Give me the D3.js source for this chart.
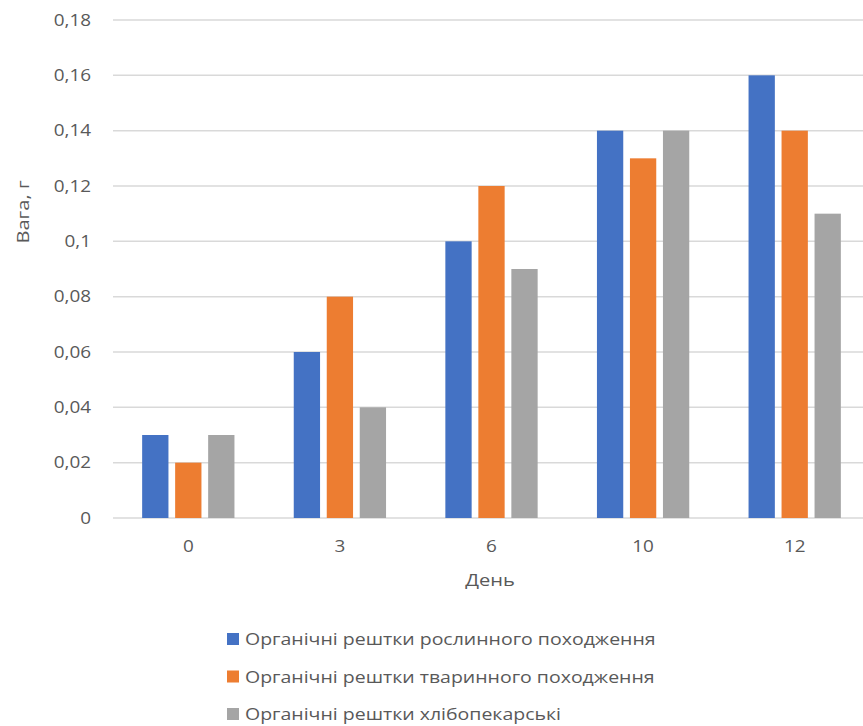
<!DOCTYPE html>
<html><head><meta charset="utf-8">
<script src="https://cdn.jsdelivr.net/npm/d3@7"></script>
<style>body{margin:0;background:#fff;} svg{display:block;}</style>
</head><body>
<svg id="chart" width="863" height="726"></svg>
<script>
const days = ["0", "3", "6", "10", "12"];
const seriesNames = [
  "Органічні рештки рослинного походження",
  "Органічні рештки тваринного походження",
  "Органічні рештки хлібопекарські"
];
const plantValues = [0.03, 0.06, 0.10, 0.14, 0.16];
const animalValues = [0.02, 0.08, 0.12, 0.13, 0.14];
const bakeryValues = [0.03, 0.04, 0.09, 0.14, 0.11];
const yTicks = [0, 0.02, 0.04, 0.06, 0.08, 0.1, 0.12, 0.14, 0.16, 0.18];
const colors = ["#4472C4", "#ED7D31", "#A5A5A5"];

const series = [plantValues, animalValues, bakeryValues];
const svg = d3.select("#chart");
const FONT = "'Open Sans', 'DejaVu Sans', sans-serif";
const SX = 1.22;
const textCol = "#595959";

const x = d3.scaleBand().domain(days).range([112.5, 870.5]).paddingInner(0).paddingOuter(0);
const y = d3.scaleLinear().domain([0, 0.18]).range([518, 20]);

function stext(g, tx, ty, str, size, anchor, rot) {
  const gg = g.append("g").attr("transform", `translate(${tx},${ty})` + (rot ? ` rotate(${rot})` : "") + ` scale(${SX},1)`);
  gg.append("text").attr("x", 0).attr("y", 0)
    .attr("text-anchor", anchor).attr("dominant-baseline", "central")
    .attr("font-family", FONT).attr("font-size", size).attr("fill", textCol).text(str);
}

// gridlines
const fmt = v => v === 0 ? "0" : String(+v.toFixed(2)).replace(".", ",");
svg.append("g").selectAll("line").data(yTicks).join("line")
  .attr("x1", 113).attr("x2", 863)
  .attr("y1", d => y(d)).attr("y2", d => y(d))
  .attr("stroke", "#d9d9d9").attr("stroke-width", 1.5);

// y tick labels
const yl = svg.append("g");
yTicks.forEach(t => stext(yl, 91, y(t), fmt(t), 15.5, "end"));

// bars
const barW = 26.3, gap = 6.7;
const groupW = 3 * barW + 2 * gap;
const bars = svg.append("g");
series.forEach((vals, si) => {
  bars.selectAll(null).data(vals.map((v, i) => ({v, d: days[i]}))).join("rect")
    .attr("x", d => x(d.d) + x.bandwidth() / 2 - groupW / 2 + si * (barW + gap))
    .attr("width", barW)
    .attr("y", d => y(d.v))
    .attr("height", d => y(0) - y(d.v))
    .attr("fill", colors[si]);
});

// x labels
const xl = svg.append("g");
days.forEach(d => stext(xl, x(d) + x.bandwidth() / 2, 546, d, 15.5, "middle"));

// axis titles
stext(svg, 490, 579, "День", 16.5, "middle");
stext(svg, 22, 212, "Вага, г", 16.5, "middle", -90);

// legend
const lg = svg.append("g");
seriesNames.forEach((n, i) => {
  const cy = 639 + i * 37.5;
  lg.append("rect").attr("x", 227).attr("y", cy - 6).attr("width", 12).attr("height", 12).attr("fill", colors[i]);
  stext(lg, 245, cy, n, 16, "start");
});
</script>
</body></html>
